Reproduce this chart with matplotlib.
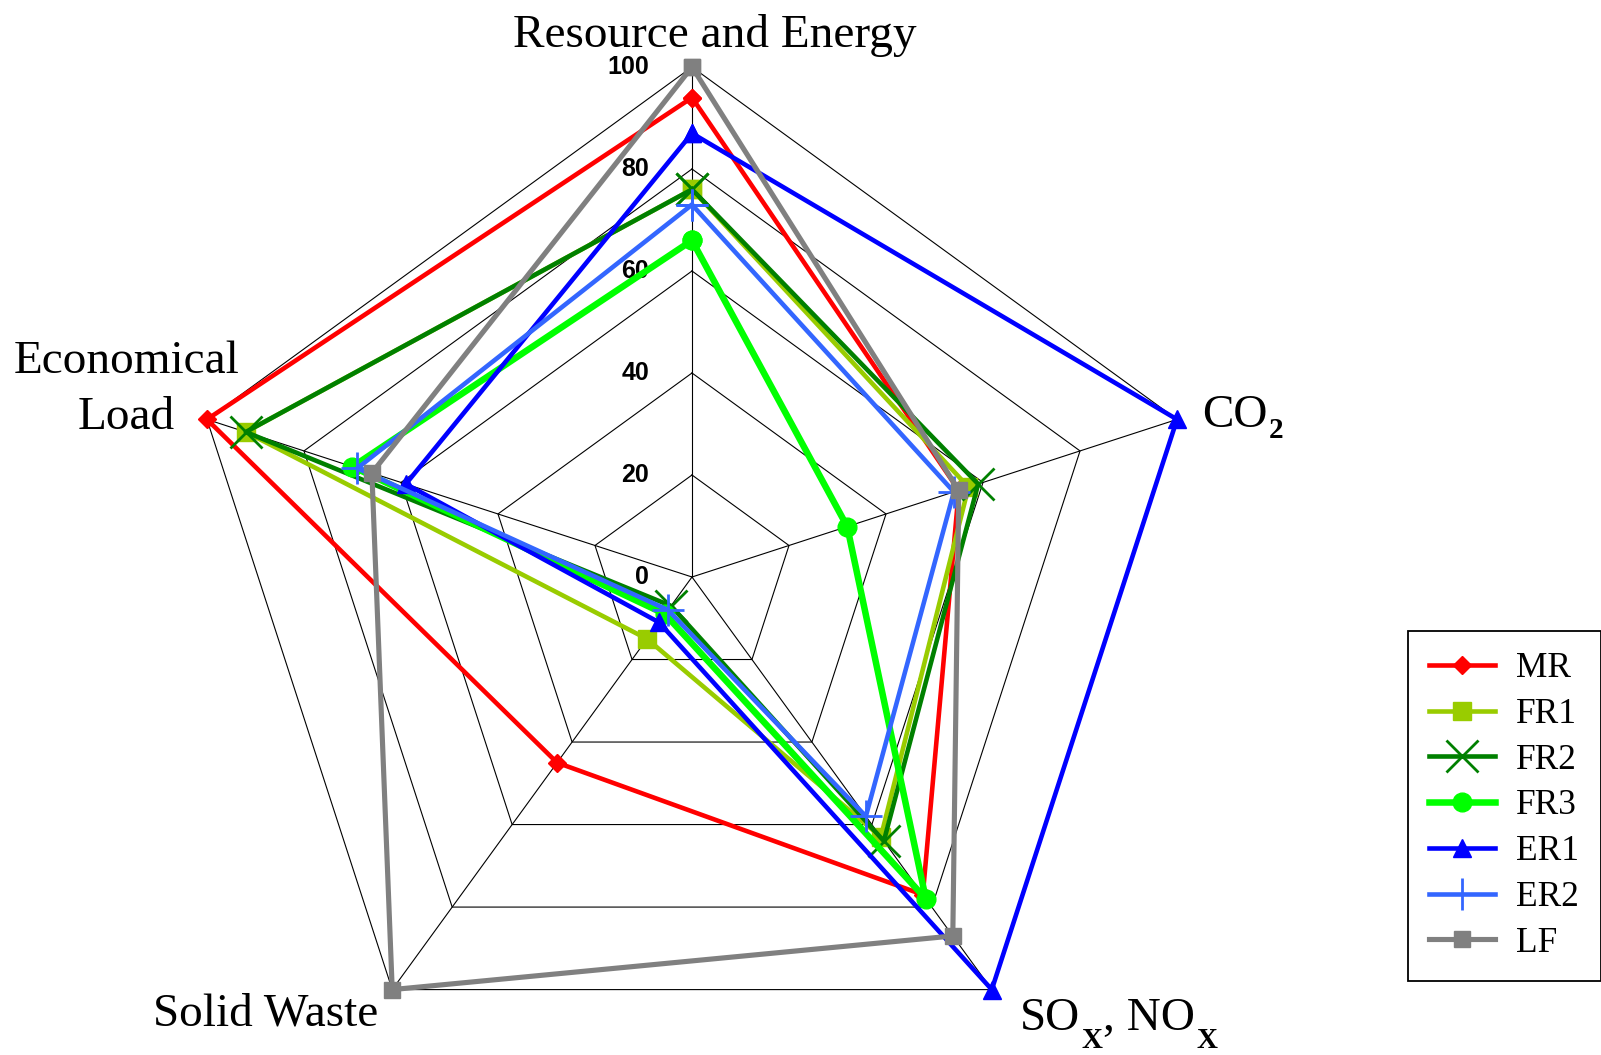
import numpy as np
import matplotlib
matplotlib.use("Agg")
import matplotlib.pyplot as plt

# axes, clockwise from the top
categories = ["Resource and Energy", "CO2", "SOx, NOx", "Solid Waste", "Economical Load"]
ticks = [0, 20, 40, 60, 80, 100]

MR = [94, 55, 77, 45, 100]
FR1 = [76, 57, 63, 15, 92]
FR2 = [76, 59, 64, 7, 92]
FR3 = [66, 32, 78, 9, 70]
ER1 = [87, 100, 100, 11, 59]
ER2 = [73, 54, 58, 8, 69]
LF = [100, 55, 87, 100, 66]

series = [
    ("MR", MR, dict(color='#ff0000', marker='D', ms=9, lw=3.3)),
    ("FR1", FR1, dict(color='#99cc00', marker='s', ms=13, lw=3.3)),
    ("FR2", FR2, dict(color='#008000', marker='x', ms=23, mew=2, lw=3.3)),
    ("FR3", FR3, dict(color='#00ff00', marker='o', ms=13.5, lw=4.7)),
    ("ER1", ER1, dict(color='#0000ff', marker='^', ms=13, lw=3.3)),
    ("ER2", ER2, dict(color='#3366ff', marker='+', ms=23, mew=2, lw=3.3)),
    ("LF", LF, dict(color='#808080', marker='s', ms=12, lw=3.7)),
]

W, H = 1601, 1055
CX, CY, SCALE = 692, 577, 5.1   # centre in pixels, pixels per unit

fig = plt.figure(figsize=(W / 100, H / 100), dpi=100)
ax = fig.add_axes([0, 0, 1, 1])
ax.set_xlim(-CX / SCALE, (W - CX) / SCALE)
ax.set_ylim(-(H - CY) / SCALE, CY / SCALE)
ax.axis('off')

n = len(categories)
angles = np.deg2rad(90 - 72 * np.arange(n))
ca, sa = np.cos(angles), np.sin(angles)

# pentagon grid + spokes
for r in ticks[1:]:
    ax.plot(np.append(r * ca, r * ca[0]), np.append(r * sa, r * sa[0]),
            color='black', lw=0.8, zorder=1)
for i in range(n):
    ax.plot([0, 100 * ca[i]], [0, 100 * sa[i]], color='black', lw=0.8, zorder=1)

for t in ticks:
    ax.text(-8.4, t, str(t), ha='right', va='center', fontsize=18,
            fontweight='bold', family='Liberation Sans', zorder=2)

for name, vals, kw in series:
    v = np.array(vals + vals[:1], dtype=float)
    a = np.append(angles, angles[0])
    ax.plot(v * np.cos(a), v * np.sin(a), label=name, zorder=3, **kw)

# axis labels
serif = dict(family='Liberation Serif', fontsize=34, va='baseline')
fig.text(715 / W, 1 - 46.7 / H, "Resource and Energy", ha='center', **serif)
fig.text(266 / W, 1 - 1026 / H, "Solid Waste", ha='center', **serif)
fig.text(126.5 / W, 1 - 372.7 / H, "Economical", ha='center', **serif)
fig.text(126.5 / W, 1 - 429.3 / H, "Load", ha='center', **serif)

renderer = fig.canvas.get_renderer()


def label_with_subs(x, y, parts, drop):
    # parts: list of (text, is_subscript); x, y in pixels from top-left
    for txt, sub in parts:
        if sub:
            t = fig.text(x / W, 1 - (y + drop) / H, txt, family='Liberation Serif',
                         fontsize=21, fontweight='bold', va='baseline', ha='left')
        else:
            t = fig.text(x / W, 1 - y / H, txt, family='Liberation Serif',
                         fontsize=34, va='baseline', ha='left')
        x += t.get_window_extent(renderer).width + 1


label_with_subs(1202, 426.7, [("CO", False), ("2", True)], 11)
label_with_subs(1020, 1030, [("SO", False), ("X", True), (", NO", False), ("X", True)], 18)

leg = ax.legend(loc='upper left', bbox_to_anchor=(1408 / W, 1 - 631 / H),
                bbox_transform=fig.transFigure, borderaxespad=0,
                prop=dict(family='Liberation Serif', size=25.5),
                fancybox=False, framealpha=1, edgecolor='black',
                handlelength=1.86, handletextpad=0.6, labelspacing=0.36,
                borderpad=0.6)
leg.get_frame().set_linewidth(1.3)

plt.savefig("out.png", dpi=100)
